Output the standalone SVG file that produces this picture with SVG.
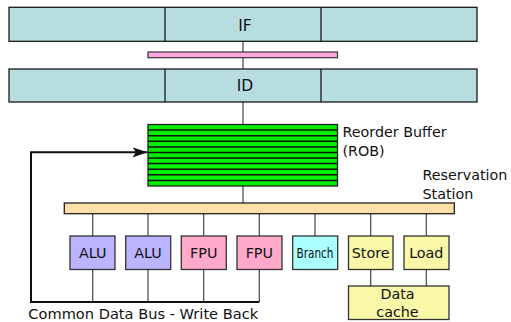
<svg xmlns="http://www.w3.org/2000/svg" width="511" height="322" viewBox="0 0 511 322">
  <style>
    text { font-family: "DejaVu Sans", "Liberation Sans", sans-serif; font-size: 14.3px; fill: #111; }
    .mid { text-anchor: middle; }
    .stage { fill: #b7dde0; stroke: #1a1a1a; stroke-width: 1.3; }
    .div { stroke: #1a1a1a; stroke-width: 1.3; }
    .unit { stroke: #333; stroke-width: 1.3; }
    .wire { stroke: #444; stroke-width: 1.2; fill: none; }
    .bus { stroke: #111; stroke-width: 2; fill: none; }
    .alu { fill: #bbb4ff; }
    .fpu { fill: #ffaacb; }
    .br { fill: #aaffff; }
    .mem { fill: #f8f8a8; }
    .rob-line { stroke: #111; stroke-width: 1.5; }
  </style>
  <defs>
    <marker id="arrow" markerUnits="userSpaceOnUse" markerWidth="16" markerHeight="12" refX="15" refY="5" orient="auto">
      <path d="M0,0 L15,5 L0,10 L3.5,5 Z" fill="#111"/>
    </marker>
  </defs>
  <rect width="511" height="322" fill="#fff"/>

  <g id="connectors">
    <line class="wire" x1="243" y1="41" x2="243" y2="69"/>
    <line class="wire" x1="243" y1="102" x2="243" y2="124.5"/>
    <line class="wire" x1="243" y1="186" x2="243" y2="203"/>
    <line class="wire" x1="92.7" y1="214" x2="92.7" y2="236"/>
    <line class="wire" x1="148" y1="214" x2="148" y2="236"/>
    <line class="wire" x1="203.7" y1="214" x2="203.7" y2="236"/>
    <line class="wire" x1="259.3" y1="214" x2="259.3" y2="236"/>
    <line class="wire" x1="315" y1="214" x2="315" y2="236"/>
    <line class="wire" x1="370.7" y1="214" x2="370.7" y2="236"/>
    <line class="wire" x1="426.3" y1="214" x2="426.3" y2="236"/>
    <line class="wire" x1="92.7" y1="269.5" x2="92.7" y2="302"/>
    <line class="wire" x1="148" y1="269.5" x2="148" y2="302"/>
    <line class="wire" x1="203.7" y1="269.5" x2="203.7" y2="302"/>
    <line class="wire" x1="259.3" y1="269.5" x2="259.3" y2="302"/>
    <line class="wire" x1="370.7" y1="269.5" x2="370.7" y2="286"/>
    <line class="wire" x1="426.3" y1="269.5" x2="426.3" y2="286"/>
    <!-- common data bus write-back loop -->
    <path class="bus" d="M259.3,302 H31 V152.3 H147.5" marker-end="url(#arrow)"/>
  </g>

  <g id="if-stage">
    <rect class="stage" x="9" y="7.3" width="468" height="34"/>
    <line class="div" x1="165" y1="7.3" x2="165" y2="41.3"/>
    <line class="div" x1="321" y1="7.3" x2="321" y2="41.3"/>
    <text class="mid" x="245" y="30.5" style="font-size:15.5px">IF</text>
  </g>

  <g id="latch">
    <rect x="148" y="52" width="189.5" height="5.7" fill="#ffa8e0" stroke="#333" stroke-width="1.2"/>
  </g>

  <g id="id-stage">
    <rect class="stage" x="9" y="69" width="468" height="33"/>
    <line class="div" x1="165" y1="69" x2="165" y2="102"/>
    <line class="div" x1="321" y1="69" x2="321" y2="102"/>
    <text class="mid" x="245" y="91" style="font-size:15.5px">ID</text>
  </g>

  <g id="rob">
    <rect x="148" y="124.5" width="189.5" height="61.5" fill="#00f000" stroke="#222" stroke-width="1.3"/>
    <line class="rob-line" x1="148" y1="130.1" x2="337.5" y2="130.1"/>
    <line class="rob-line" x1="148" y1="135.7" x2="337.5" y2="135.7"/>
    <line class="rob-line" x1="148" y1="141.3" x2="337.5" y2="141.3"/>
    <line class="rob-line" x1="148" y1="146.9" x2="337.5" y2="146.9"/>
    <line class="rob-line" x1="148" y1="152.5" x2="337.5" y2="152.5"/>
    <line class="rob-line" x1="148" y1="158.0" x2="337.5" y2="158.0"/>
    <line class="rob-line" x1="148" y1="163.6" x2="337.5" y2="163.6"/>
    <line class="rob-line" x1="148" y1="169.2" x2="337.5" y2="169.2"/>
    <line class="rob-line" x1="148" y1="174.8" x2="337.5" y2="174.8"/>
    <line class="rob-line" x1="148" y1="180.4" x2="337.5" y2="180.4"/>
    <text x="342.5" y="137.3">Reorder Buffer</text>
    <text x="342.5" y="156">(ROB)</text>
  </g>

  <g id="reservation-station">
    <rect x="64.3" y="203" width="390" height="10.7" fill="#ffdfa8" stroke="#222" stroke-width="1.3"/>
    <text x="422.5" y="180">Reservation</text>
    <text x="422.5" y="198.5">Station</text>
  </g>

  <g id="alu1">
    <rect class="unit alu" x="70" y="236" width="45" height="33.5"/>
    <text class="mid" x="92.7" y="258.3">ALU</text>
  </g>
  <g id="alu2">
    <rect class="unit alu" x="125.7" y="236" width="45" height="33.5"/>
    <text class="mid" x="148" y="258.3">ALU</text>
  </g>
  <g id="fpu1">
    <rect class="unit fpu" x="181.3" y="236" width="45" height="33.5"/>
    <text class="mid" x="203.7" y="258.3">FPU</text>
  </g>
  <g id="fpu2">
    <rect class="unit fpu" x="237" y="236" width="45" height="33.5"/>
    <text class="mid" x="259.3" y="258.3">FPU</text>
  </g>
  <g id="branch">
    <rect class="unit br" x="292.7" y="236" width="45" height="33.5"/>
    <text class="mid" x="315" y="258.3" textLength="37" lengthAdjust="spacingAndGlyphs" style="font-size:13.5px">Branch</text>
  </g>
  <g id="store">
    <rect class="unit mem" x="348.5" y="236" width="44.5" height="33.5"/>
    <text class="mid" x="370.7" y="258.3">Store</text>
  </g>
  <g id="load">
    <rect class="unit mem" x="404" y="236" width="45" height="33.5"/>
    <text class="mid" x="426.3" y="258.3">Load</text>
  </g>
  <g id="data-cache">
    <rect class="unit mem" x="348.5" y="286" width="100.5" height="33.5"/>
    <text class="mid" x="397.5" y="299">Data</text>
    <text class="mid" x="397.5" y="316.5">cache</text>
  </g>

  <g id="bus-label">
    <text x="28.3" y="319.3" style="font-size:14.6px">Common Data Bus - Write Back</text>
  </g>
</svg>
